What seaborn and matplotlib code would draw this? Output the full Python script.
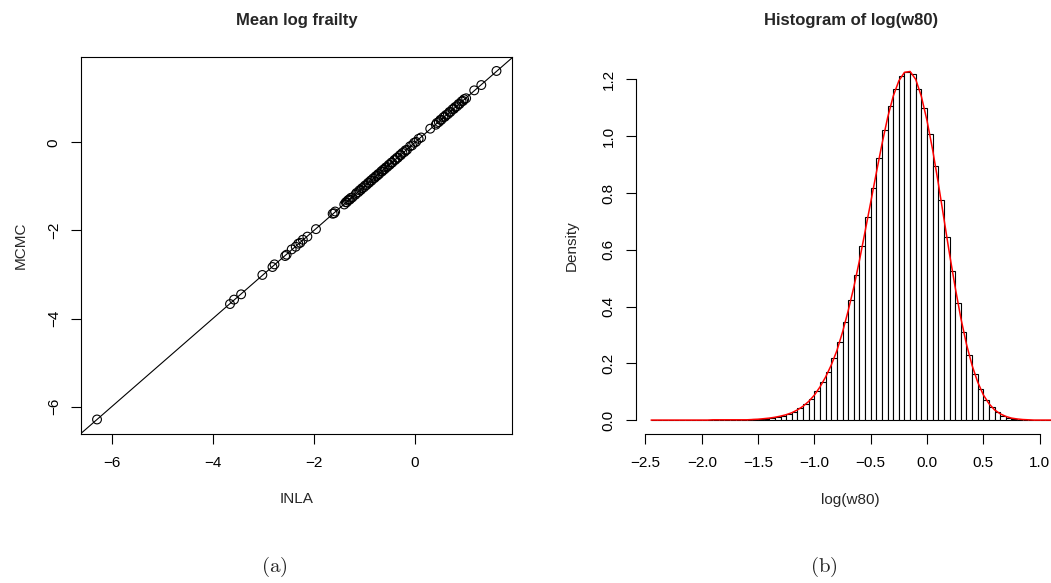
import numpy as np
import pandas as pd
import matplotlib
matplotlib.use("Agg")
import matplotlib.pyplot as plt
import seaborn as sns

# panel (a): posterior mean of the log frailties, INLA vs MCMC
inla = [-6.29,
        -3.66, -3.58, -3.44, -3.02, -2.82, -2.78, -2.57, -2.54,
        -2.44, -2.36, -2.31, -2.27, -2.22, -2.13, -1.96,
        -1.63, -1.60, -1.58,
        -1.40, -1.37, -1.35, -1.33, -1.31, -1.29, -1.27, -1.24,
        -1.18, -1.16, -1.12, -1.10, -1.07, -1.05, -1.01, -0.99, -0.96, -0.93,
        -0.91, -0.88, -0.86, -0.83, -0.80, -0.78, -0.75, -0.73, -0.71, -0.67,
        -0.65, -0.63, -0.60, -0.58, -0.55, -0.52, -0.50, -0.47, -0.45, -0.41,
        -0.39, -0.36, -0.34, -0.30, -0.28, -0.25, -0.21, -0.19, -0.16,
        -0.10, -0.06, -0.02, 0.02, 0.07, 0.12,
        0.30,
        0.41, 0.43, 0.47, 0.50, 0.52, 0.56, 0.59, 0.61, 0.65, 0.68, 0.70,
        0.74, 0.77, 0.79, 0.83, 0.86, 0.88, 0.92, 0.95, 0.97, 1.01,
        1.17, 1.31,
        1.61]
mcmc = [-6.29,
        -3.67, -3.57, -3.45, -3.01, -2.83, -2.77, -2.58, -2.55,
        -2.43, -2.37, -2.30, -2.28, -2.21, -2.14, -1.97,
        -1.62, -1.61, -1.57,
        -1.41, -1.36, -1.36, -1.32, -1.30, -1.30, -1.26, -1.25,
        -1.19, -1.15, -1.13, -1.09, -1.08, -1.04, -1.02, -0.98, -0.97, -0.92,
        -0.92, -0.87, -0.87, -0.82, -0.81, -0.77, -0.76, -0.72, -0.72, -0.66,
        -0.66, -0.62, -0.61, -0.57, -0.56, -0.51, -0.51, -0.46, -0.46, -0.40,
        -0.40, -0.35, -0.35, -0.29, -0.29, -0.24, -0.22, -0.18, -0.17,
        -0.09, -0.07, -0.01, 0.01, 0.08, 0.11,
        0.31,
        0.40, 0.44, 0.46, 0.51, 0.51, 0.57, 0.58, 0.62, 0.64, 0.69, 0.69,
        0.75, 0.76, 0.80, 0.82, 0.87, 0.87, 0.93, 0.94, 0.98, 1.00,
        1.18, 1.30,
        1.62]

# panel (b): histogram of log(w80), bin width 0.05 starting at -2.45
bin_edges = np.round(np.arange(-2.45, 1.1001, 0.05), 2)
density = [0.000, 0.000, 0.000, 0.000, 0.000, 0.000, 0.000, 0.000, 0.000, 0.000,
           0.001, 0.001, 0.001, 0.001, 0.001, 0.001, 0.002, 0.002, 0.003, 0.004,
           0.005, 0.008, 0.012, 0.016, 0.022, 0.030, 0.042, 0.057, 0.076, 0.102,
           0.134, 0.170, 0.217, 0.275, 0.347, 0.424, 0.512, 0.612, 0.715, 0.819,
           0.922, 1.022, 1.105, 1.168, 1.212, 1.227, 1.219, 1.168, 1.100, 1.007,
           0.894, 0.775, 0.646, 0.526, 0.413, 0.312, 0.230, 0.163, 0.110, 0.071,
           0.046, 0.029, 0.016, 0.009, 0.005, 0.002, 0.001, 0.001, 0.000, 0.000,
           0.000]
# red density curve, read every 0.05 from -2.45 to 1.15
curve_x = np.round(np.arange(-2.45, 1.1501, 0.05), 2)
curve_y = [0.000, 0.000, 0.000, 0.000, 0.000, 0.000, 0.000, 0.000, 0.000, 0.000,
           0.000, 0.001, 0.001, 0.001, 0.001, 0.001, 0.001, 0.001, 0.002, 0.003,
           0.005, 0.007, 0.010, 0.014, 0.019, 0.026, 0.036, 0.049, 0.066, 0.088,
           0.117, 0.152, 0.194, 0.245, 0.310, 0.385, 0.468, 0.562, 0.664, 0.767,
           0.871, 0.972, 1.065, 1.141, 1.195, 1.225, 1.228, 1.200, 1.140, 1.055,
           0.952, 0.835, 0.710, 0.585, 0.468, 0.360, 0.268, 0.193, 0.134, 0.089,
           0.058, 0.036, 0.022, 0.013, 0.007, 0.004, 0.002, 0.001, 0.000, 0.000,
           0.000, 0.000, 0.000]

sns.set_style("ticks")
plt.rcParams['font.family'] = ['Liberation Sans', 'DejaVu Sans']
plt.rcParams['mathtext.fontset'] = 'cm'

fig = plt.figure(figsize=(10.51, 5.83), dpi=100)
W, H = 1051, 583
ax1 = fig.add_axes([81 / W, 1 - 434 / H, 431 / W, 377 / H])
ax2 = fig.add_axes([636 / W, 1 - 434 / H, (W - 636) / W, 377 / H])

# ---- (a) scatter with identity line
ax1.axline((0, 0), slope=1, color='black', lw=0.8)
sns.scatterplot(x=inla, y=mcmc, ax=ax1, marker='o', s=40, facecolors='none',
                edgecolor='black', linewidth=0.8, zorder=3)
ax1.set_xlim(-6.607, 1.917)
ax1.set_ylim(-6.62, 1.937)
ax1.set_xticks([-6, -4, -2, 0])
ax1.set_yticks([-6, -4, -2, 0])
for sp in ax1.spines.values():
    sp.set_linewidth(0.8)
    sp.set_color('black')
ax1.set_title("Mean log frailty", fontsize=12, fontweight='bold',
              y=1.098, va='center', pad=0)
ax1.set_xlabel("INLA", fontsize=11)
ax1.set_ylabel("MCMC", fontsize=11)
ax1.xaxis.set_label_coords(0.5, -0.172)
ax1.xaxis.label.set_va('center')
ax1.yaxis.set_label_coords(-0.139, 0.5)
ax1.yaxis.label.set_va('center')

# ---- (b) histogram + density
hist_df = pd.DataFrame({"mid": (bin_edges[:-1] + bin_edges[1:]) / 2,
                        "density": density})
sns.histplot(data=hist_df, x="mid", weights="density", bins=list(bin_edges),
             ax=ax2, stat='count', color='white', edgecolor='black',
             linewidth=0.8, alpha=1)
sns.lineplot(x=curve_x, y=curve_y, ax=ax2, color='red', lw=1.1)
ax2.set_xlim(-2.584, 1.101)
ax2.set_ylim(-0.049, 1.279)
ax2.set_xticks([-2.5, -2.0, -1.5, -1.0, -0.5, 0.0, 0.5, 1.0])
ax2.set_xticklabels(["\u22122.5", "\u22122.0", "\u22121.5", "\u22121.0",
                     "\u22120.5", "0.0", "0.5", "1.0"])
ax2.set_yticks([0.0, 0.2, 0.4, 0.6, 0.8, 1.0, 1.2])
ax2.set_yticklabels(["0.0", "0.2", "0.4", "0.6", "0.8", "1.0", "1.2"])
ax2.spines['top'].set_visible(False)
ax2.spines['right'].set_visible(False)
ax2.spines['left'].set_bounds(0, 1.2)
ax2.spines['bottom'].set_bounds(-2.5, 1.0)
for sp in ax2.spines.values():
    sp.set_linewidth(0.8)
    sp.set_color('black')
ax2.set_title("Histogram of log(w80)", fontsize=12, fontweight='bold',
              x=(851 - 636) / (W - 636), y=1.098, va='center', pad=0)
ax2.set_xlabel("log(w80)", fontsize=11)
ax2.set_ylabel("Density", fontsize=11)
ax2.xaxis.set_label_coords((850 - 636) / (W - 636), -0.175)
ax2.xaxis.label.set_va('center')
ax2.yaxis.set_label_coords(-0.154, 0.5)
ax2.yaxis.label.set_va('center')

for ax in (ax1, ax2):
    ax.tick_params(axis='both', direction='out', length=7, width=0.8,
                   color='black', labelsize=11, labelcolor='black', pad=9)
    ax.tick_params(axis='y', labelrotation=90, pad=7.5)
    for lab in ax.get_yticklabels():
        lab.set_va('center')

fig.text(274 / W, 1 - 567 / H, r"$\mathrm{(a)}$", fontsize=15, ha='center', va='center')
fig.text(824 / W, 1 - 567 / H, r"$\mathrm{(b)}$", fontsize=15, ha='center', va='center')

fig.savefig("out.png", dpi=100)
